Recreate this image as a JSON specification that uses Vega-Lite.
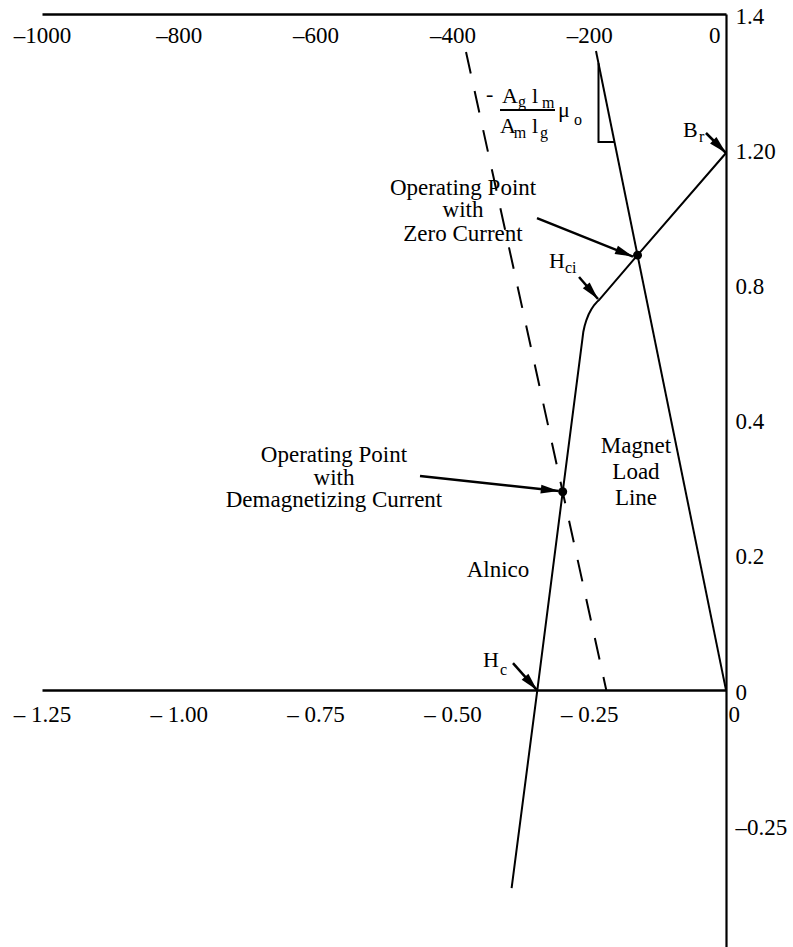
{
  "$schema": "https://vega.github.io/schema/vega-lite/v6.json",
  "width": 684,
  "height": 933,
  "autosize": "none",
  "padding": {"left": 42, "right": 67, "top": 14, "bottom": 0},
  "background": "white",
  "config": {
    "view": {"stroke": null},
    "axis": {"grid": false, "ticks": false, "labelFont": "Liberation Serif", "labelFontSize": 23, "labelColor": "black", "domainColor": "black", "labelOverlap": false, "labelFlush": false},
    "text": {"font": "Liberation Serif", "color": "black"}
  },
  "datasets": {
    "curves": [
      {"series": "alnico", "i": 0, "x": -0.3918, "y": -1.4645},
      {"series": "alnico", "i": 1, "x": -0.3448, "y": 0},
      {"series": "alnico", "i": 2, "x": -0.2984, "y": 1.4667},
      {"series": "alnico", "i": 3, "x": -0.2622, "y": 2.6036},
      {"series": "alnico", "i": 4, "x": -0.2608, "y": 2.6479},
      {"series": "alnico", "i": 5, "x": -0.2584, "y": 2.6923},
      {"series": "alnico", "i": 6, "x": -0.2551, "y": 2.7367},
      {"series": "alnico", "i": 7, "x": -0.2511, "y": 2.7774},
      {"series": "alnico", "i": 8, "x": -0.2463, "y": 2.8144},
      {"series": "alnico", "i": 9, "x": -0.2409, "y": 2.8476},
      {"series": "alnico", "i": 10, "x": -0.2357, "y": 2.8713},
      {"series": "alnico", "i": 11, "x": -0.2321, "y": 2.8846},
      {"series": "alnico", "i": 12, "x": -0.1617, "y": 3.2167},
      {"series": "alnico", "i": 13, "x": 0, "y": 3.972},
      {"series": "load", "i": 0, "x": 0, "y": 0},
      {"series": "load", "i": 1, "x": -0.2376, "y": 4.7263},
      {"series": "triangle", "i": 0, "x": -0.2330, "y": 4.6353},
      {"series": "triangle", "i": 1, "x": -0.2330, "y": 4.0533},
      {"series": "triangle", "i": 2, "x": -0.2038, "y": 4.0533}
    ],
    "dashed": [
      {"i": 0, "x": -0.4751, "y": 4.7189},
      {"i": 1, "x": -0.2188, "y": 0}
    ],
    "points": [
      {"x": -0.1617, "y": 3.2167},
      {"x": -0.2984, "y": 1.4667}
    ],
    "arrows": [
      {"x1": -0.0366, "y1": 4.120, "x2": 0, "y2": 3.972},
      {"x1": -0.3454, "y1": 3.491, "x2": -0.1700, "y2": 3.2063},
      {"x1": -0.2686, "y1": 3.055, "x2": -0.2339, "y2": 2.892},
      {"x1": -0.5592, "y1": 1.583, "x2": -0.3056, "y2": 1.472},
      {"x1": -0.3893, "y1": 0.1997, "x2": -0.3454, "y2": 0.0}
    ],
    "bar": [
      {"x1": -0.4130, "x2": -0.3125, "y": 4.2899}
    ],
    "labels": [
      {"t": "Operating Point", "x": -0.4806, "y": 3.661},
      {"t": "with", "x": -0.4806, "y": 3.499},
      {"t": "Zero Current", "x": -0.4806, "y": 3.321},
      {"t": "Operating Point", "x": -0.7164, "y": 1.686},
      {"t": "with", "x": -0.7164, "y": 1.516},
      {"t": "Demagnetizing Current", "x": -0.7164, "y": 1.354},
      {"t": "Magnet", "x": -0.1645, "y": 1.753},
      {"t": "Load", "x": -0.1645, "y": 1.561},
      {"t": "Line", "x": -0.1645, "y": 1.368},
      {"t": "Alnico", "x": -0.4167, "y": 0.836}
    ],
    "symbols": [
      {"t": "-", "x": -0.4386, "y": 4.3565},
      {"t": "A", "x": -0.4094, "y": 4.3417},
      {"t": "l", "x": -0.3545, "y": 4.3417},
      {"t": "A", "x": -0.4130, "y": 4.1198},
      {"t": "l", "x": -0.3545, "y": 4.1198},
      {"t": "μ", "x": -0.3070, "y": 4.2382},
      {"t": "H", "x": -0.3235, "y": 3.1213},
      {"t": "H", "x": -0.4441, "y": 0.1701},
      {"t": "B", "x": -0.0786, "y": 4.0902}
    ],
    "subs": [
      {"t": "g", "x": -0.3800, "y": 4.3100},
      {"t": "m", "x": -0.3363, "y": 4.3050},
      {"t": "m", "x": -0.3880, "y": 4.0830},
      {"t": "g", "x": -0.3399, "y": 4.0830},
      {"t": "o", "x": -0.2778, "y": 4.1790},
      {"t": "ci", "x": -0.2942, "y": 3.0843},
      {"t": "c", "x": -0.4130, "y": 0.1109},
      {"t": "r", "x": -0.0493, "y": 4.0533}
    ]
  },
  "resolve": {"axis": {"x": "independent", "y": "independent"}},
  "layer": [
    {
      "data": {"name": "curves"},
      "mark": {"type": "line", "color": "black", "strokeWidth": 2},
      "encoding": {
        "x": {"field": "x", "type": "quantitative", "scale": {"domain": [-1.25, 0], "nice": false, "zero": false},
          "axis": {"orient": "top", "title": null, "values": [-1.25, -1, -0.75, -0.5, -0.25, 0], "domainWidth": 2.5,
            "labelExpr": "datum.value == 0 ? '0' : '–' + format(-datum.value * 800, 'd')",
            "labelAlign": {"condition": {"test": "datum.value == 0", "value": "right"}, "value": "center"},
            "labelOffset": {"condition": {"test": "datum.value == 0", "value": -6}, "value": 0},
            "labelBaseline": "alphabetic", "labelPadding": -28}},
        "y": {"field": "y", "type": "quantitative", "scale": {"domain": [-1.9, 5], "nice": false, "zero": false},
          "axis": {"orient": "right", "title": null, "values": [-1, 0, 1, 2, 3, 4, 5], "domainWidth": 2.2,
            "labelExpr": "datum.value == 5 ? '1.4' : datum.value == 4 ? '1.20' : datum.value == 3 ? '0.8' : datum.value == 2 ? '0.4' : datum.value == 1 ? '0.2' : datum.value == 0 ? '0' : '–0.25'",
            "labelAlign": "left", "labelBaseline": "middle", "labelPadding": 9, "labelOffset": 2}},
        "detail": {"field": "series"},
        "order": {"field": "i"}
      }
    },
    {
      "data": {"name": "dashed"},
      "mark": {"type": "line", "color": "black", "strokeWidth": 2, "strokeDash": [22, 18]},
      "encoding": {
        "x": {"field": "x", "type": "quantitative", "scale": {"domain": [-1.25, 0], "nice": false, "zero": false},
          "axis": {"orient": "bottom", "title": null, "values": [-1.25, -1, -0.75, -0.5, -0.25, 0], "domainWidth": 2.5, "offset": -256.91,
            "labelExpr": "datum.value == 0 ? '0' : '– ' + format(-datum.value, '.2f')",
            "labelAlign": {"condition": {"test": "datum.value == 0", "value": "left"}, "value": "center"},
            "labelOffset": {"condition": {"test": "datum.value == 0", "value": 2}, "value": 0},
            "labelBaseline": "alphabetic", "labelPadding": 31}},
        "y": {"field": "y", "type": "quantitative", "scale": {"domain": [-1.9, 5], "nice": false, "zero": false}, "axis": null},
        "order": {"field": "i"}
      }
    },
    {
      "data": {"name": "arrows"},
      "mark": {"type": "rule", "color": "black", "strokeWidth": 2.5},
      "encoding": {
        "x": {"field": "x1", "type": "quantitative", "scale": {"domain": [-1.25, 0], "nice": false, "zero": false}, "axis": null},
        "y": {"field": "y1", "type": "quantitative", "scale": {"domain": [-1.9, 5], "nice": false, "zero": false}, "axis": null},
        "x2": {"field": "x2"},
        "y2": {"field": "y2"}
      }
    },
    {
      "data": {"name": "arrows"},
      "transform": [
        {"calculate": "atan2((datum.x2 - datum.x1) * 547.2, (datum.y2 - datum.y1) * 135.2) * 180 / PI", "as": "ang"}
      ],
      "mark": {"type": "point", "shape": "M0,0L-0.5,2L0.5,2Z", "filled": true, "color": "black", "opacity": 1, "size": 324, "strokeWidth": 0},
      "encoding": {
        "x": {"field": "x2", "type": "quantitative", "scale": {"domain": [-1.25, 0], "nice": false, "zero": false}, "axis": null},
        "y": {"field": "y2", "type": "quantitative", "scale": {"domain": [-1.9, 5], "nice": false, "zero": false}, "axis": null},
        "angle": {"field": "ang", "type": "quantitative", "scale": null}
      }
    },
    {
      "data": {"name": "points"},
      "mark": {"type": "circle", "color": "black", "opacity": 1, "size": 80},
      "encoding": {
        "x": {"field": "x", "type": "quantitative", "scale": {"domain": [-1.25, 0], "nice": false, "zero": false}, "axis": null},
        "y": {"field": "y", "type": "quantitative", "scale": {"domain": [-1.9, 5], "nice": false, "zero": false}, "axis": null}
      }
    },
    {
      "data": {"name": "bar"},
      "mark": {"type": "rule", "color": "black", "strokeWidth": 2},
      "encoding": {
        "x": {"field": "x1", "type": "quantitative", "scale": {"domain": [-1.25, 0], "nice": false, "zero": false}, "axis": null},
        "x2": {"field": "x2"},
        "y": {"field": "y", "type": "quantitative", "scale": {"domain": [-1.9, 5], "nice": false, "zero": false}, "axis": null}
      }
    },
    {
      "data": {"name": "labels"},
      "mark": {"type": "text", "align": "center", "baseline": "alphabetic", "fontSize": 23, "font": "Liberation Serif"},
      "encoding": {
        "x": {"field": "x", "type": "quantitative", "scale": {"domain": [-1.25, 0], "nice": false, "zero": false}, "axis": null},
        "y": {"field": "y", "type": "quantitative", "scale": {"domain": [-1.9, 5], "nice": false, "zero": false}, "axis": null},
        "text": {"field": "t"}
      }
    },
    {
      "data": {"name": "symbols"},
      "mark": {"type": "text", "align": "left", "baseline": "alphabetic", "fontSize": 22, "font": "Liberation Serif"},
      "encoding": {
        "x": {"field": "x", "type": "quantitative", "scale": {"domain": [-1.25, 0], "nice": false, "zero": false}, "axis": null},
        "y": {"field": "y", "type": "quantitative", "scale": {"domain": [-1.9, 5], "nice": false, "zero": false}, "axis": null},
        "text": {"field": "t"}
      }
    },
    {
      "data": {"name": "subs"},
      "mark": {"type": "text", "align": "left", "baseline": "alphabetic", "fontSize": 16, "font": "Liberation Serif"},
      "encoding": {
        "x": {"field": "x", "type": "quantitative", "scale": {"domain": [-1.25, 0], "nice": false, "zero": false}, "axis": null},
        "y": {"field": "y", "type": "quantitative", "scale": {"domain": [-1.9, 5], "nice": false, "zero": false}, "axis": null},
        "text": {"field": "t"}
      }
    }
  ]
}
